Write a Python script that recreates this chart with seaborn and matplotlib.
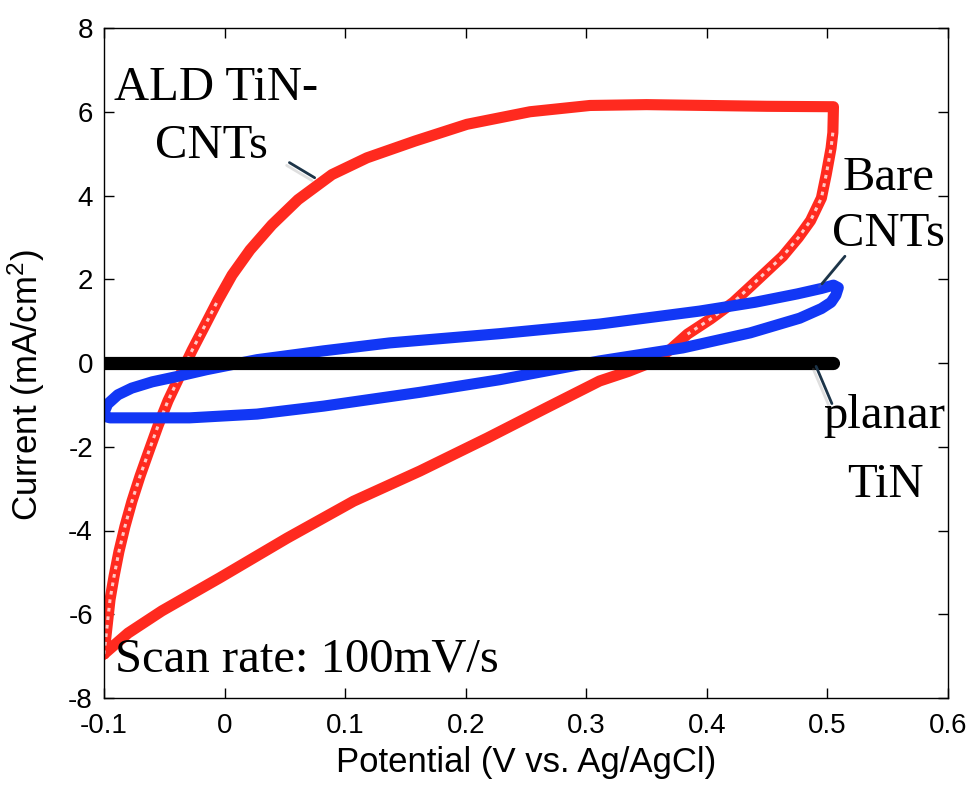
import matplotlib
matplotlib.use("Agg")
import matplotlib.pyplot as plt
import matplotlib.patheffects as pe
import seaborn as sns
import pandas as pd

# ---- data ----
# ALD TiN-CNTs: anodic sweep (left -> right, upper branch)
red_x_fwd = [-0.100, -0.0975, -0.095, -0.0917, -0.0876, -0.0826, -0.0768, -0.0701, -0.0627,
             -0.0552, -0.0469, -0.0370, -0.0270, -0.0162, -0.0055, 0.0062, 0.0211, 0.0393,
             0.0609, 0.0891, 0.1181, 0.1579, 0.2010, 0.2533, 0.3031, 0.350, 0.400, 0.450, 0.505]
red_y_fwd = [-6.95, -6.30, -5.65, -5.10, -4.50, -3.90, -3.30, -2.70, -2.10,
             -1.50, -0.90, -0.30, 0.30, 0.90, 1.50, 2.10, 2.70, 3.30,
             3.90, 4.50, 4.90, 5.30, 5.70, 6.00, 6.15, 6.17, 6.15, 6.13, 6.12]
# ALD TiN-CNTs: cathodic sweep (right -> left, lower branch)
red_x_rev = [0.505, 0.5045, 0.503, 0.499, 0.495, 0.486, 0.476, 0.463, 0.450, 0.437, 0.422,
             0.403, 0.384, 0.370, 0.357, 0.335, 0.311, 0.267, 0.218, 0.162, 0.107, 0.052,
             -0.004, -0.052, -0.080, -0.100]
red_y_rev = [6.12, 5.50, 5.13, 4.50, 3.94, 3.40, 3.00, 2.55, 2.20, 1.85, 1.45,
             1.05, 0.69, 0.33, 0.05, -0.20, -0.43, -1.07, -1.79, -2.58, -3.30, -4.18,
             -5.13, -5.92, -6.45, -6.95]

# Bare CNTs
blue_x_upper = [-0.100, -0.0995, -0.097, -0.0885, -0.077, -0.060, -0.039, -0.015, 0.027, 0.082,
                0.137, 0.228, 0.311, 0.394, 0.440, 0.475, 0.495, 0.505, 0.509]
blue_y_upper = [-1.27, -1.15, -0.98, -0.76, -0.60, -0.45, -0.32, -0.16, 0.08, 0.29,
                0.48, 0.70, 0.93, 1.24, 1.45, 1.65, 1.78, 1.86, 1.80]
blue_x_lower = [0.509, 0.507, 0.503, 0.495, 0.477, 0.436, 0.380, 0.311, 0.228, 0.162, 0.082,
                0.027, -0.029, -0.070, -0.095, -0.100]
blue_y_lower = [1.80, 1.62, 1.45, 1.30, 1.07, 0.72, 0.36, 0.05, -0.40, -0.70, -1.03,
                -1.22, -1.31, -1.31, -1.31, -1.27]

# planar TiN
planar_x = [-0.100, 0.505]
planar_y = [0.0, 0.0]

x_ticks = [-0.1, 0.0, 0.1, 0.2, 0.3, 0.4, 0.5, 0.6]
x_tick_labels = ["-0.1", "0", "0.1", "0.2", "0.3", "0.4", "0.5", "0.6"]
y_ticks = [-8, -6, -4, -2, 0, 2, 4, 6, 8]
y_tick_labels = ["-8", "-6", "-4", "-2", "0", "2", "4", "6", "8"]

# number of leading points on each red sweep where the open-square markers are sparse
n_steep_fwd = 15
n_steep_rev = 13

# ---- build frames ----
red_df = pd.DataFrame({"V": red_x_fwd + red_x_rev[1:], "I": red_y_fwd + red_y_rev[1:]})
red_steep_fwd = pd.DataFrame({"V": red_x_fwd[:n_steep_fwd], "I": red_y_fwd[:n_steep_fwd]})
red_steep_rev = pd.DataFrame({"V": red_x_rev[1:n_steep_rev], "I": red_y_rev[1:n_steep_rev]})
blue_df = pd.DataFrame({"V": blue_x_upper + blue_x_lower[1:], "I": blue_y_upper + blue_y_lower[1:]})
black_df = pd.DataFrame({"V": planar_x, "I": planar_y})

sns.set_style("ticks")
plt.rcParams["font.family"] = ["Liberation Sans", "DejaVu Sans"]
plt.rcParams["text.color"] = "black"
plt.rcParams["axes.labelcolor"] = "black"
plt.rcParams["xtick.color"] = "black"
plt.rcParams["ytick.color"] = "black"
plt.rcParams["axes.unicode_minus"] = False
plt.rcParams["mathtext.fontset"] = "custom"
plt.rcParams["mathtext.rm"] = "Liberation Sans"
plt.rcParams["mathtext.default"] = "regular"

fig = plt.figure(figsize=(9.75, 7.85), dpi=100)
W, H = 975.0, 785.0
ax = fig.add_axes([104 / W, 1 - 698 / H, 844 / W, 670 / H])

red = "#ff2a1f"
blue = "#1237f5"

sns.lineplot(data=red_df, x="V", y="I", sort=False, estimator=None, ax=ax,
             color=red, linewidth=8, solid_capstyle="round", solid_joinstyle="round")
# hollow look of the sparse open-square markers on the steep parts
for d in (red_steep_fwd, red_steep_rev):
    sns.lineplot(data=d, x="V", y="I", sort=False, estimator=None, ax=ax,
                 color="white", linewidth=2.2, alpha=0.75, linestyle=(0, (1.2, 1.6)))
sns.lineplot(data=blue_df, x="V", y="I", sort=False, estimator=None, ax=ax,
             color=blue, linewidth=8, solid_capstyle="round", solid_joinstyle="round")
sns.lineplot(data=black_df, x="V", y="I", sort=False, estimator=None, ax=ax,
             color="black", linewidth=9.5, solid_capstyle="round")

ax.set_xlim(-0.1, 0.6)
ax.set_ylim(-8, 8)
ax.set_xticks(x_ticks)
ax.set_xticklabels(x_tick_labels)
ax.set_yticks(y_ticks)
ax.set_yticklabels(y_tick_labels)
ax.tick_params(direction="in", length=7, width=1, top=True, right=True,
               labelsize=20, colors="black")
ax.tick_params(axis="x", pad=11)
ax.tick_params(axis="y", pad=8)
for s in ax.spines.values():
    s.set_visible(True)
    s.set_color("black")
    s.set_linewidth(1.0)

ax.set_xlabel("Potential (V vs. Ag/AgCl)", fontsize=25, color="black")
ax.set_ylabel("Current (mA/cm$^2$)", fontsize=25, color="black")
ax.xaxis.set_label_coords(0.5, -0.071)
ax.yaxis.set_label_coords(-0.068, 0.467)

# ---- annotations ----
serif = ["Liberation Serif", "DejaVu Serif"]
def ftext(px, py, s, ha="center"):
    fig.text(px / W, 1 - py / H, s, ha=ha, va="baseline", fontsize=35, family=serif, color="black")

ftext(216, 100, "ALD TiN-")
ftext(211, 158, "CNTs")
ftext(889, 190, "Bare")
ftext(888, 246, "CNTs")
ftext(884, 428, "planar")
ftext(885, 497, "TiN")
ftext(115, 672, "Scan rate: 100mV/s", ha="left")

ptr = dict(arrowstyle="-", color="#1c3448", lw=2.0,
           path_effects=[pe.SimpleLineShadow(offset=(-2, -2), alpha=0.25, shadow_color="gray"), pe.Normal()])
ax.annotate("", xy=(0.0767, 4.39), xytext=(0.0518, 4.82), arrowprops=ptr)
ax.annotate("", xy=(0.494, 1.84), xytext=(0.516, 2.60), arrowprops=ptr)
ax.annotate("", xy=(0.4897, -0.02), xytext=(0.5046, -1.03), arrowprops=ptr)

fig.savefig("out.png", dpi=100)
